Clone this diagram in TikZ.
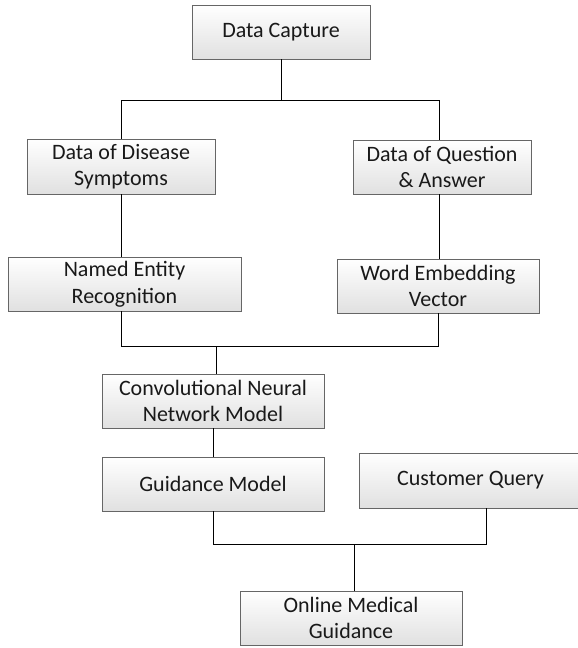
\documentclass[tikz,border=0pt]{standalone}
\usepackage{fontspec}
\setmainfont{Carlito}
\usetikzlibrary{calc}
\begin{document}
\begin{tikzpicture}[x=1pt,y=-1pt,
  box/.style={draw=black!60, line width=0.9pt, rectangle, top color=white, bottom color=black!12,
    align=center, inner sep=0pt, font=\fontsize{22}{26.5}\selectfont, text=black!90},
  conn/.style={draw=black, line width=0.9pt}]
\useasboundingbox (0,0) rectangle (578,648);
\node[box, minimum width=178pt, minimum height=54pt] (cap) at (281,32) {Data Capture};
\node[box, minimum width=188pt, minimum height=55pt] (dis) at (121,166.5) {Data of Disease\\Symptoms};
\node[box, minimum width=178pt, minimum height=54pt] (qa) at (442,167) {Data of Question\\\& Answer};
\node[box, minimum width=233pt, minimum height=54pt] (ner) at (124.5,284) {Named Entity\\Recognition};
\node[box, minimum width=202pt, minimum height=54pt] (wev) at (438,286) {Word Embedding\\Vector};
\node[box, minimum width=222pt, minimum height=54pt] (cnn) at (213,401) {Convolutional Neural\\Network Model};
\node[box, minimum width=222pt, minimum height=54pt] (gm) at (213,484) {Guidance Model};
\node[box, minimum width=223pt, minimum height=55pt] (cq) at (470.5,480.5) {Customer Query};
\node[box, minimum width=222pt, minimum height=54pt] (omg) at (351,618) {Online Medical\\Guidance};
% connectors
\coordinate (j1) at ($(cap.south)+(0,41)$);
\coordinate (disn) at ($(dis.north)$);
\coordinate (qan) at ($(qa.north)+(-3,0)$);
\draw[conn] (cap.south) -- (j1);
\draw[conn] (disn) |- (j1) -| (qan);
\draw[conn] (dis.south) -- (dis.south |- ner.north);
\draw[conn] ($(qa.south)+(-3,0)$) -- ($(qa.south |- wev.north)+(-3,0)$);
\coordinate (j2) at ($(cnn.north)+(3,-27)$);
\draw[conn] ($(ner.south)+(-3.5,0)$) |- (j2);
\draw[conn] (wev.south) |- (j2);
\draw[conn] (j2) -- (j2 |- cnn.north);
\draw[conn] (cnn.south) -- (gm.north);
\coordinate (cqs) at ($(cq.south)+(15.5,0)$);
\coordinate (j3) at ($(omg.north)+(3,-46)$);
\draw[conn] (gm.south) |- (j3);
\draw[conn] (cqs) |- (j3);
\draw[conn] (j3) -- (j3 |- omg.north);
\end{tikzpicture}
\end{document}
